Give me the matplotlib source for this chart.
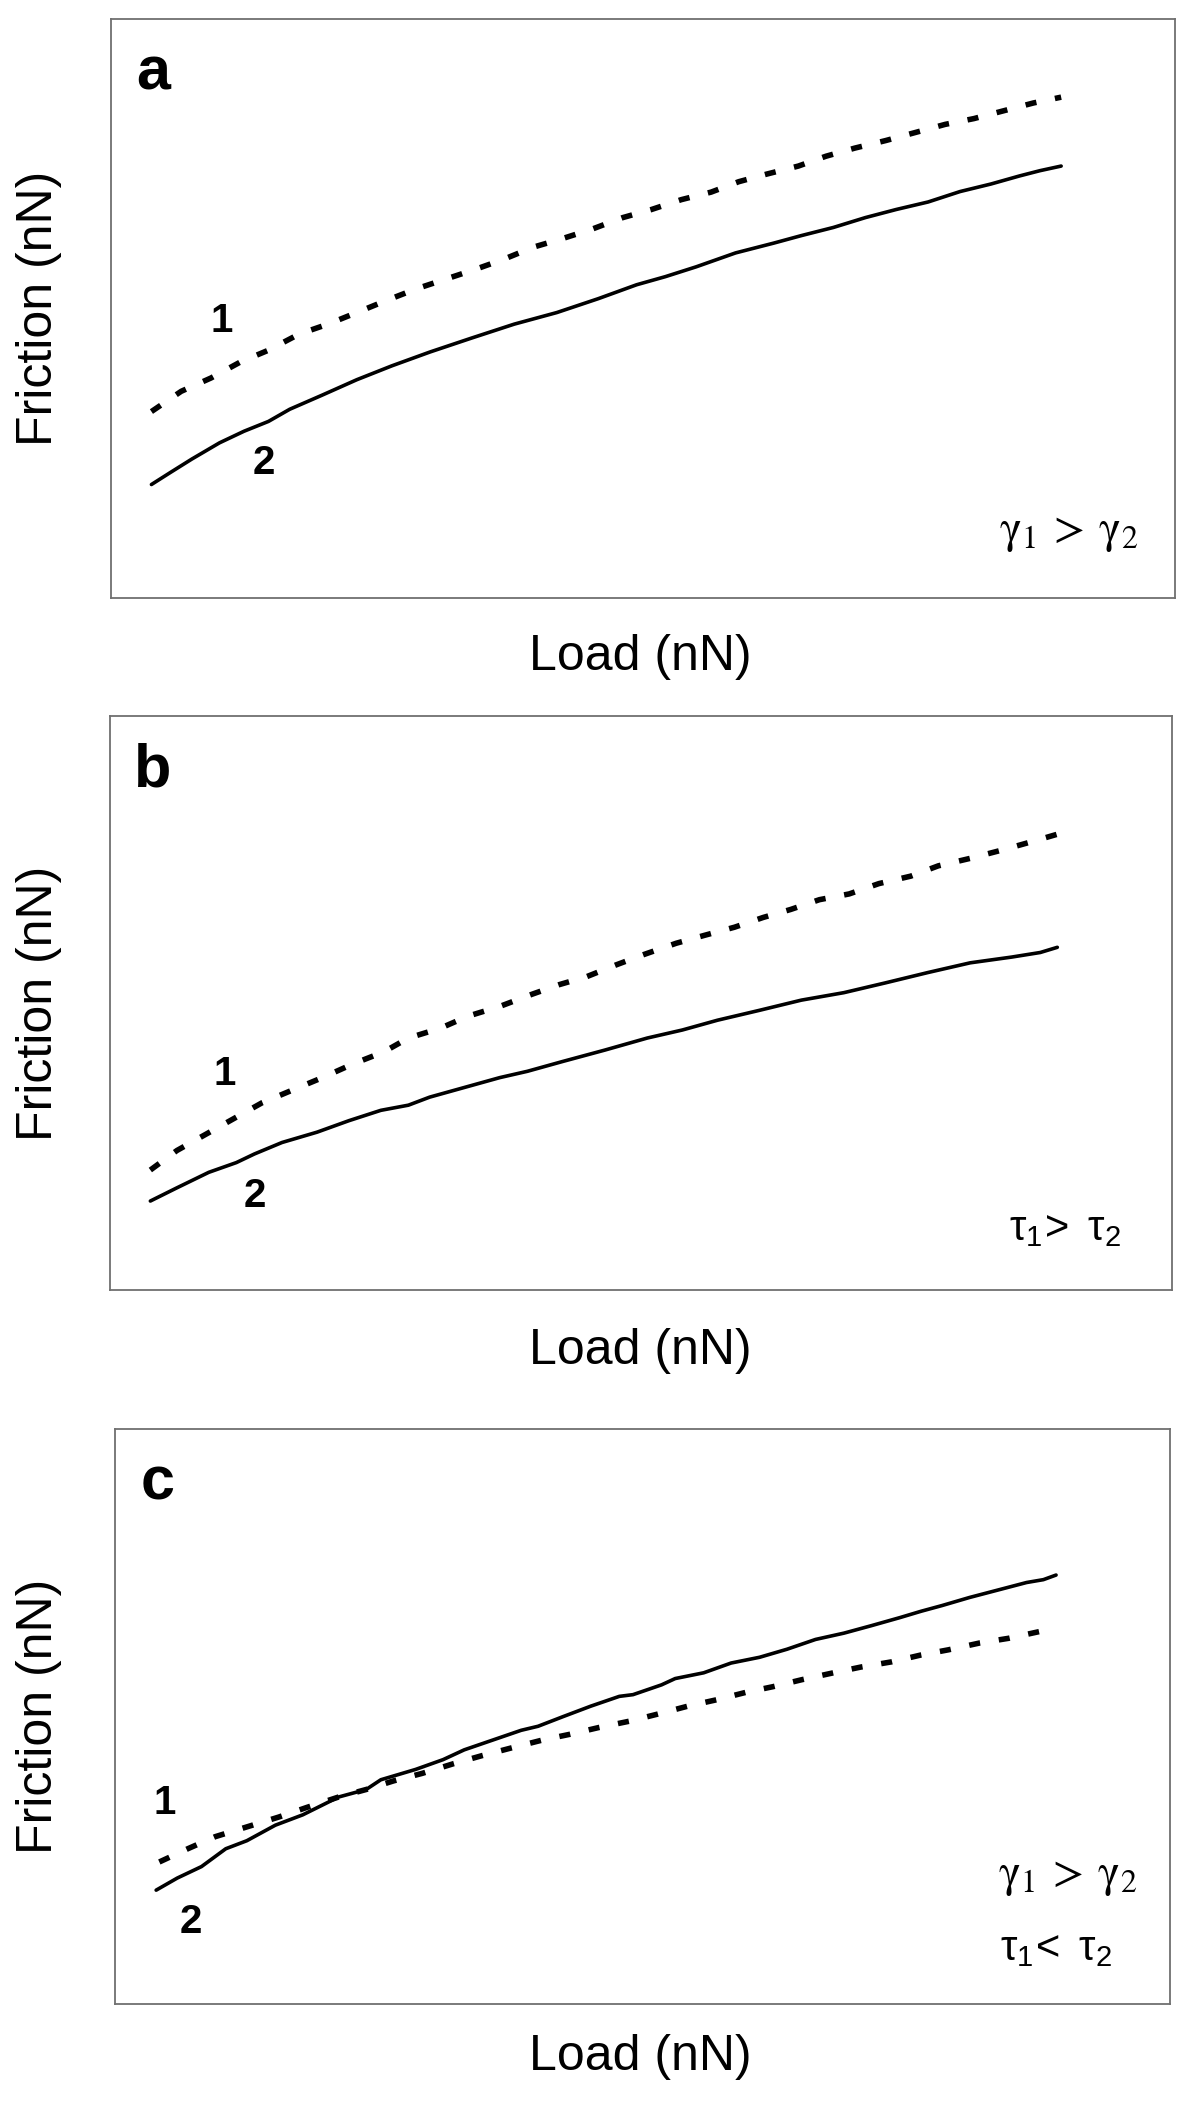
import matplotlib
matplotlib.use("Agg")
import matplotlib.pyplot as plt

plt.rcParams['font.family'] = ['Liberation Sans', 'DejaVu Sans']
plt.rcParams['mathtext.fontset'] = 'custom'
plt.rcParams['mathtext.rm'] = 'Liberation Sans'
plt.rcParams['mathtext.it'] = 'Liberation Sans:italic'

# values are read off the picture, in fractions of each (unscaled) plot box
# panel a
load_a1 = [0.038, 0.066, 0.094, 0.122, 0.148, 0.177, 0.204, 0.231, 0.259, 0.287, 0.315,
           0.343, 0.369, 0.397, 0.423, 0.452, 0.481, 0.508, 0.536, 0.564, 0.590, 0.616,
           0.646, 0.672, 0.699, 0.728, 0.756, 0.784, 0.811, 0.840, 0.867, 0.893]
fric_a1 = [0.322, 0.357, 0.380, 0.408, 0.428, 0.456, 0.473, 0.493, 0.514, 0.534, 0.551,
           0.568, 0.585, 0.606, 0.620, 0.637, 0.657, 0.671, 0.688, 0.701, 0.719, 0.732,
           0.746, 0.763, 0.777, 0.790, 0.804, 0.818, 0.828, 0.842, 0.855, 0.865]
load_a2 = [0.038, 0.056, 0.076, 0.102, 0.125, 0.148, 0.168, 0.198, 0.231, 0.264, 0.300,
           0.339, 0.379, 0.419, 0.458, 0.494, 0.521, 0.550, 0.587, 0.623, 0.649, 0.679,
           0.709, 0.738, 0.768, 0.798, 0.827, 0.854, 0.873, 0.893]
fric_a2 = [0.196, 0.217, 0.240, 0.268, 0.288, 0.305, 0.326, 0.350, 0.377, 0.401, 0.425,
           0.449, 0.473, 0.493, 0.517, 0.541, 0.555, 0.572, 0.596, 0.613, 0.626, 0.640,
           0.657, 0.671, 0.684, 0.702, 0.715, 0.729, 0.738, 0.746]

# panel b
load_b1 = [0.038, 0.063, 0.089, 0.116, 0.143, 0.174, 0.200, 0.229, 0.258, 0.281, 0.311,
           0.337, 0.367, 0.397, 0.423, 0.449, 0.476, 0.502, 0.533, 0.560, 0.588, 0.615,
           0.641, 0.668, 0.696, 0.724, 0.754, 0.780, 0.810, 0.839, 0.866, 0.892]
fric_b1 = [0.209, 0.243, 0.270, 0.298, 0.326, 0.350, 0.370, 0.394, 0.415, 0.439, 0.456,
           0.477, 0.494, 0.515, 0.532, 0.546, 0.566, 0.584, 0.604, 0.618, 0.632, 0.649,
           0.663, 0.680, 0.690, 0.708, 0.721, 0.739, 0.752, 0.766, 0.780, 0.794]
load_b2 = [0.038, 0.063, 0.093, 0.119, 0.136, 0.162, 0.195, 0.225, 0.255, 0.281, 0.301,
           0.334, 0.367, 0.393, 0.426, 0.466, 0.506, 0.539, 0.572, 0.611, 0.651, 0.691,
           0.730, 0.770, 0.810, 0.849, 0.876, 0.892]
fric_b2 = [0.155, 0.178, 0.205, 0.222, 0.237, 0.257, 0.275, 0.295, 0.313, 0.322, 0.336,
           0.353, 0.370, 0.381, 0.398, 0.418, 0.439, 0.453, 0.470, 0.487, 0.505, 0.518,
           0.535, 0.553, 0.570, 0.580, 0.588, 0.597]

# panel c
load_c1 = [0.042, 0.069, 0.095, 0.125, 0.155, 0.182, 0.212, 0.238, 0.264, 0.291, 0.321,
           0.348, 0.375, 0.405, 0.431, 0.459, 0.488, 0.514, 0.543, 0.570, 0.598, 0.624,
           0.651, 0.681, 0.707, 0.736, 0.764, 0.790, 0.820, 0.847, 0.877]
fric_c1 = [0.247, 0.270, 0.291, 0.308, 0.325, 0.342, 0.360, 0.373, 0.388, 0.401, 0.418,
           0.432, 0.445, 0.459, 0.469, 0.481, 0.492, 0.504, 0.518, 0.529, 0.542, 0.552,
           0.564, 0.576, 0.586, 0.595, 0.607, 0.616, 0.628, 0.636, 0.648]
load_c2 = [0.039, 0.059, 0.082, 0.105, 0.125, 0.152, 0.178, 0.212, 0.238, 0.252, 0.285,
           0.311, 0.331, 0.358, 0.385, 0.401, 0.425, 0.451, 0.478, 0.491, 0.518, 0.531,
           0.558, 0.584, 0.611, 0.637, 0.664, 0.691, 0.717, 0.744, 0.764, 0.784, 0.810,
           0.837, 0.864, 0.880, 0.892]
fric_c2 = [0.198, 0.219, 0.239, 0.270, 0.284, 0.311, 0.329, 0.360, 0.373, 0.390, 0.408,
           0.425, 0.442, 0.459, 0.476, 0.483, 0.500, 0.518, 0.535, 0.538, 0.555, 0.566,
           0.576, 0.593, 0.603, 0.617, 0.634, 0.645, 0.658, 0.672, 0.683, 0.693, 0.707,
           0.720, 0.733, 0.738, 0.746]

panel_letters = ['a', 'b', 'c']
x_label = 'Load (nN)'
y_label = 'Friction (nN)'


def draw_panel(ax, x1, y1, x2, y2):
    ax.plot(x1, y1, color='black', lw=4.0, dashes=(2.0, 3.4), dash_capstyle='butt')
    ax.plot(x2, y2, color='black', lw=2.6, solid_capstyle='round')
    ax.set_xlim(0, 1)
    ax.set_ylim(0, 1)
    ax.set_xticks([])
    ax.set_yticks([])
    for sp in ax.spines.values():
        sp.set_color('#707070')
        sp.set_linewidth(1.3)


fig = plt.figure(figsize=(12, 21.12), dpi=100)

# box positions in pixels (left, top, right, bottom)
boxes = [(111, 19, 1175, 598), (110, 716, 1172, 1290), (115, 1429, 1170, 2004)]
load_y = [657, 1351, 2057]

axes = []
for (l, t, r, b) in boxes:
    ax = fig.add_axes([l / 1200, 1 - b / 2112, (r - l) / 1200, (b - t) / 2112])
    axes.append(ax)

draw_panel(axes[0], load_a1, fric_a1, load_a2, fric_a2)
draw_panel(axes[1], load_b1, fric_b1, load_b2, fric_b2)
draw_panel(axes[2], load_c1, fric_c1, load_c2, fric_c2)

for ax, (l, t, r, b), ly, letter in zip(axes, boxes, load_y, panel_letters):
    ax.text(0.040, 0.905, letter, transform=ax.transAxes, fontsize=44,
            fontweight='bold', ha='center', va='center')
    fig.text(39 / 1200, 1 - (t + b) / 2 / 2112, y_label, rotation=90,
             fontsize=36, ha='center', va='center')
    fig.text(640 / 1200, 1 - ly / 2112, x_label, fontsize=36, ha='center', va='center')

# curve numbers
num_pos = [((0.104, 0.478), (0.144, 0.233)),
           ((0.108, 0.377), (0.136, 0.164)),
           ((0.047, 0.349), (0.072, 0.143))]
for ax, (p1, p2) in zip(axes, num_pos):
    ax.text(p1[0], p1[1], '1', transform=ax.transAxes, fontsize=29,
            fontweight='bold', ha='center', va='center')
    ax.text(p2[0], p2[1], '2', transform=ax.transAxes, fontsize=29,
            fontweight='bold', ha='center', va='center')

gamma_txt = r'$\mathrm{\gamma}_1\:>\:\mathrm{\gamma}_2$'
tau_gt = r'$\mathrm{\tau}_1\!>\ \mathrm{\tau}_2$'
tau_lt = r'$\mathrm{\tau}_1\!<\ \mathrm{\tau}_2$'

axes[0].text(0.90, 0.097, gamma_txt, transform=axes[0].transAxes, fontsize=33,
             ha='center', va='baseline', math_fontfamily='stix')
axes[1].text(0.899, 0.087, tau_gt, transform=axes[1].transAxes, fontsize=30,
             ha='center', va='baseline')
axes[2].text(0.903, 0.205, gamma_txt, transform=axes[2].transAxes, fontsize=33,
             ha='center', va='baseline', math_fontfamily='stix')
axes[2].text(0.892, 0.0765, tau_lt, transform=axes[2].transAxes, fontsize=30,
             ha='center', va='baseline')

fig.savefig('out.png', dpi=100)
